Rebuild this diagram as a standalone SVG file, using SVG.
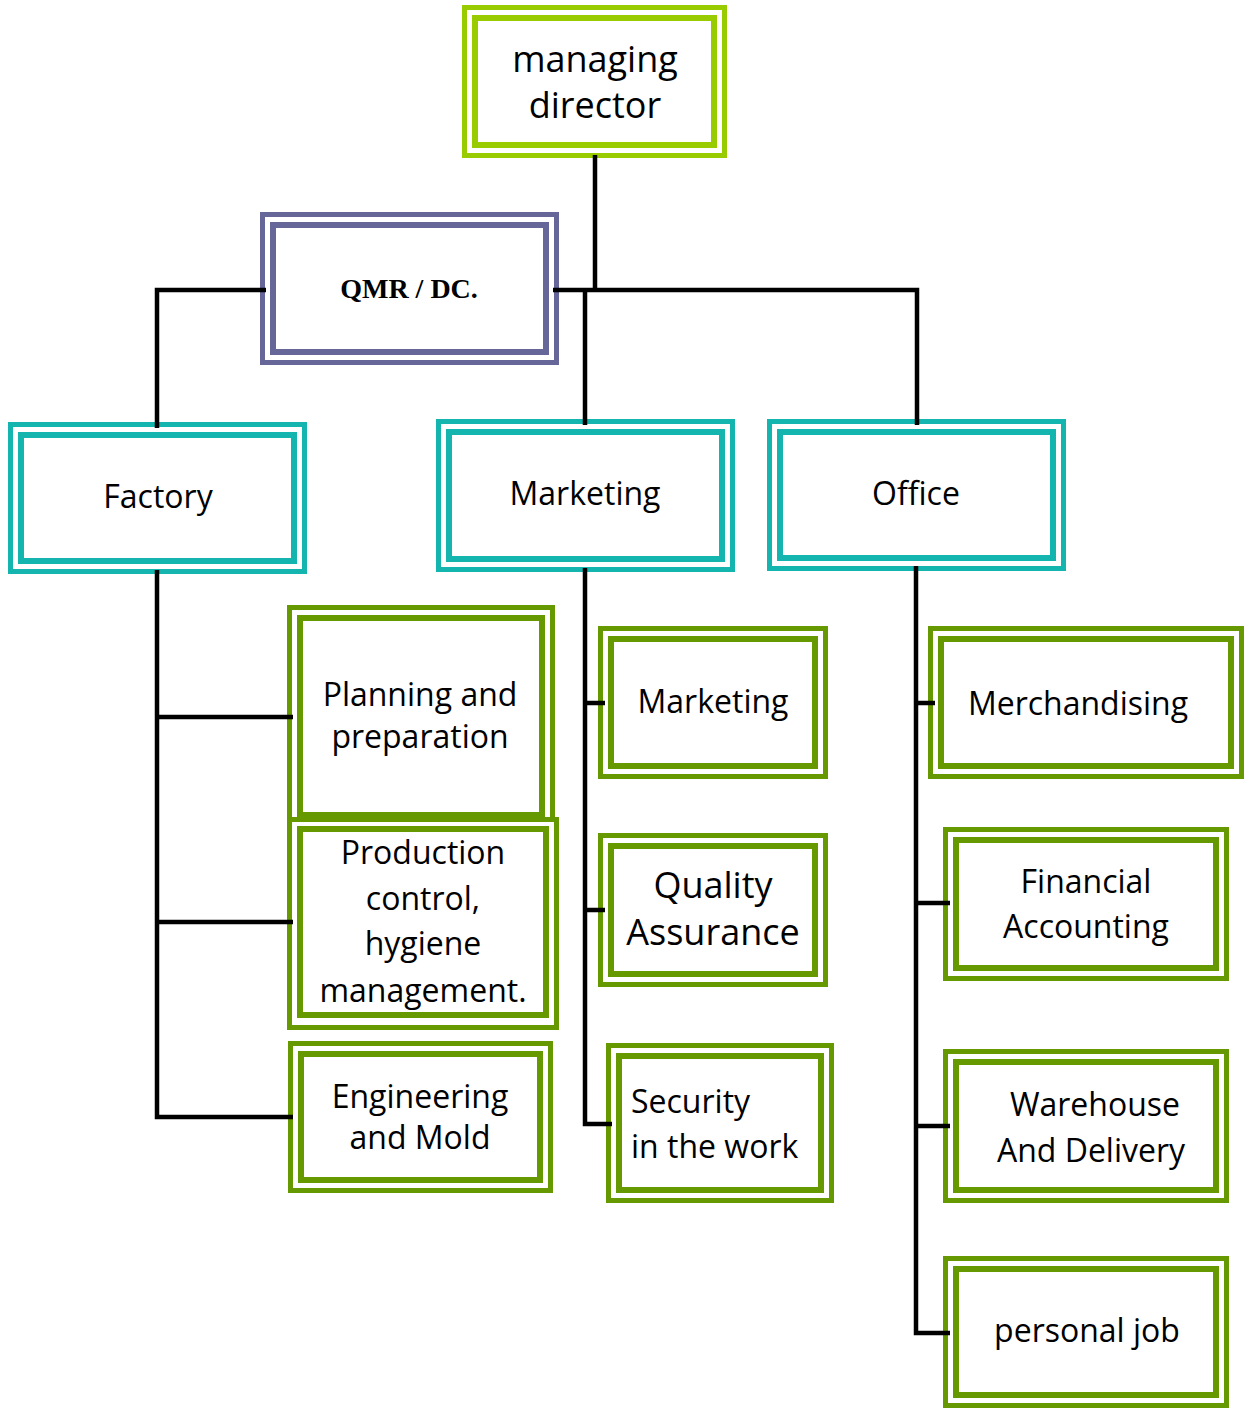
<svg xmlns="http://www.w3.org/2000/svg" width="1249" height="1408" viewBox="0 0 1249 1408">
<style>
.o{fill:#fff;stroke-width:5}
.i{fill:none;stroke-width:6}
.lime{stroke:#99CC00}
.pur{stroke:#666699}
.teal{stroke:#14B4AF}
.grn{stroke:#669900}
text{font-family:"Open Sans","Liberation Sans",sans-serif;font-size:32px;fill:#000;text-anchor:middle}
.big{font-size:36px}
.qmr{font-family:"Liberation Serif","Times New Roman",serif;font-weight:bold;font-size:28px}
.l{text-anchor:start}
.c{fill:none;stroke:#000;stroke-width:4.5}
</style>
<rect width="1249" height="1408" fill="#fff"/>
<g id="md">
<rect class="o lime" x="464.5" y="7.5" width="260" height="148"/>
<rect class="i lime" x="475" y="18" width="239" height="127"/>
<text class="big" x="595" y="72">managing</text>
<text class="big" x="595" y="118">director</text>
</g>
<g id="qmr">
<rect class="o pur" x="262.5" y="214.5" width="294" height="148"/>
<rect class="i pur" x="273" y="225" width="273" height="127"/>
<text class="qmr" x="409" y="298">QMR / DC.</text>
</g>
<g id="factory">
<rect class="o teal" x="10.5" y="424.5" width="294" height="147"/>
<rect class="i teal" x="21" y="435" width="273" height="126"/>
<text x="158" y="508">Factory</text>
</g>
<g id="marketing">
<rect class="o teal" x="438.5" y="421.5" width="294" height="148"/>
<rect class="i teal" x="449" y="432" width="273" height="127"/>
<text x="585" y="505">Marketing</text>
</g>
<g id="office">
<rect class="o teal" x="769.5" y="421.5" width="294" height="147"/>
<rect class="i teal" x="780" y="432" width="273" height="126"/>
<text x="916" y="505">Office</text>
</g>
<g id="planning">
<rect class="o grn" x="289.5" y="607.5" width="263" height="213"/>
<rect class="i grn" x="300" y="618" width="242" height="197"/>
<text x="420" y="706">Planning and</text>
<text x="420" y="748">preparation</text>
</g>
<g id="production">
<rect class="o grn" x="289.5" y="819.5" width="267" height="208"/>
<rect class="i grn" x="300" y="829" width="246" height="186"/>
<text x="423" y="864">Production</text>
<text x="423" y="910">control,</text>
<text x="423" y="955">hygiene</text>
<text x="423" y="1002">management.</text>
</g>
<g id="engineering">
<rect class="o grn" x="290.5" y="1043.5" width="260" height="147"/>
<rect class="i grn" x="301" y="1054" width="239" height="126"/>
<text x="420" y="1108">Engineering</text>
<text x="420" y="1149">and Mold</text>
</g>
<g id="mkt-sub">
<rect class="o grn" x="600.5" y="628.5" width="225" height="148"/>
<rect class="i grn" x="611" y="639" width="204" height="127"/>
<text x="713" y="713">Marketing</text>
</g>
<g id="quality">
<rect class="o grn" x="600.5" y="835.5" width="225" height="149"/>
<rect class="i grn" x="611" y="846" width="204" height="128"/>
<text class="big" x="713" y="898">Quality</text>
<text class="big" x="713" y="945">Assurance</text>
</g>
<g id="security">
<rect class="o grn" x="608.5" y="1045.5" width="223" height="155"/>
<rect class="i grn" x="619" y="1056" width="202" height="134"/>
<text class="l" x="631" y="1113">Security</text>
<text class="l" x="631" y="1158">in the work</text>
</g>
<g id="merch">
<rect class="o grn" x="930.5" y="628.5" width="311" height="148"/>
<rect class="i grn" x="941" y="639" width="290" height="127"/>
<text x="1078" y="715">Merchandising</text>
</g>
<g id="financial">
<rect class="o grn" x="945.5" y="829.5" width="281" height="149"/>
<rect class="i grn" x="956" y="840" width="260" height="128"/>
<text x="1086" y="893">Financial</text>
<text x="1086" y="938">Accounting</text>
</g>
<g id="warehouse">
<rect class="o grn" x="945.5" y="1051.5" width="281" height="149"/>
<rect class="i grn" x="956" y="1062" width="260" height="128"/>
<text x="1095" y="1116">Warehouse</text>
<text x="1091" y="1162">And Delivery</text>
</g>
<g id="personal">
<rect class="o grn" x="945.5" y="1258.5" width="281" height="147"/>
<rect class="i grn" x="956" y="1269" width="260" height="126"/>
<text x="1087" y="1342">personal job</text>
</g>
<g id="connectors">
<path class="c" d="M595 155V290"/>
<path class="c" d="M266 290H157V428"/>
<path class="c" d="M553 290H917V425"/>
<path class="c" d="M585 290V425"/>
<path class="c" d="M157 570V1117H293"/>
<path class="c" d="M157 717H293M157 922H293"/>
<path class="c" d="M585 568V1124H612"/>
<path class="c" d="M585 703H605M585 910H605"/>
<path class="c" d="M916 566V1333H950"/>
<path class="c" d="M916 703H935M916 903H950M916 1126H950"/>
</g>
</svg>
